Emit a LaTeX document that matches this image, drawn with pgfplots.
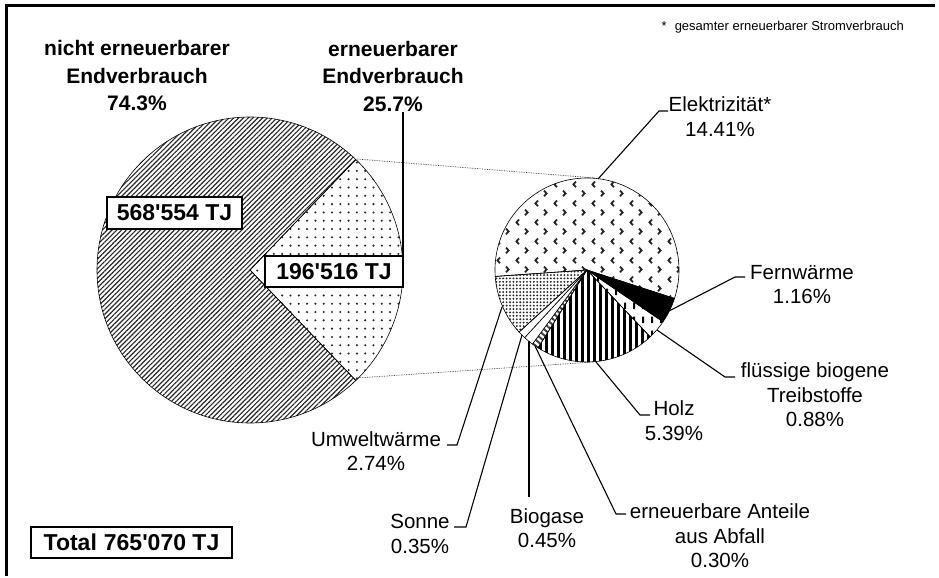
\documentclass[border=0pt]{standalone}
\usepackage{pgfplots}
\pgfplotsset{compat=1.18}
\usepackage{fontspec}
\setmainfont{Liberation Sans}
\usetikzlibrary{patterns.meta}

\tikzdeclarepattern{
  name=chev, type=uncolored,
  bounding box={(0,0) and (19bp,19bp)},
  tile size={(19bp,19bp)},
  code={
    \draw[line width=1.9bp] (6.3bp,17.2bp) -- (3.6bp,14.25bp) -- (6.3bp,11.3bp);
    \draw[line width=1.9bp] (12.6bp,7.7bp) -- (15.3bp,4.75bp) -- (12.6bp,1.8bp);
  }
}
\tikzdeclarepattern{
  name=vdash, type=uncolored,
  bounding box={(0,0) and (9bp,14bp)},
  tile size={(9bp,14bp)},
  code={\fill (3.5bp,3bp) rectangle (5.5bp,10bp);}
}
\tikzdeclarepattern{
  name=vstripe, type=uncolored,
  bounding box={(0,0) and (6.2bp,20bp)},
  tile size={(6.2bp,20bp)},
  code={\fill (0bp,-1bp) rectangle (3.1bp,21bp);}
}

\tikzset{
  sElek/.style={pattern=chev, pattern color=black!85},
  sFern/.style={fill=black},
  sFl/.style={pattern=vdash, pattern color=black},
  sHolz/.style={pattern=vstripe, pattern color=black},
  sAbf/.style={pattern={Lines[angle=-40,distance=4.5bp,line width=2bp]}, pattern color=black!75},
  sBio/.style={fill=white},
  sSon/.style={fill=white},
  sUmw/.style={pattern={Dots[distance=3.4bp,radius=1.05bp]}, pattern color=black!85},
  lab/.style={font=\fontsize{20.5bp}{24.5bp}\selectfont, align=center, inner sep=0pt},
  tit/.style={font=\fontsize{21bp}{27.5bp}\selectfont\bfseries, align=center, inner sep=0pt},
  boxl/.style={font=\fontsize{23bp}{26bp}\selectfont\bfseries, draw=black, line width=1.2bp, fill=white, inner sep=0pt, align=center},
  ldr/.style={line width=1.1bp, black},
}

\begin{document}
\begin{tikzpicture}
\begin{axis}[x=1bp, y=1bp, xmin=0, xmax=939, ymin=0, ymax=576, y dir=reverse,
  hide axis, clip=false]
\addplot[draw=none, forget plot] coordinates {(0,0) (939,576)};
\pgfplotsextra{
  % frame (top and left edges)
  \draw[line width=3bp] (axis cs:5,5.3) -- (axis cs:935,5.3);
  \draw[line width=3.3bp] (axis cs:6.7,3.8) -- (axis cs:6.7,576);

  % big pie: non renewable 568554 TJ, renewable 196516 TJ (in 1000 TJ)
  \pgfmathsetmacro{\hs}{196.516/765.070*180}
  \pgfmathsetmacro{\he}{360-\hs}
  \filldraw[pattern={Lines[angle=45,distance=3.4bp,line width=1.15bp]}, pattern color=black!85, draw=black, line width=0.6bp]
     (axis cs:250,270) -- ++(\hs:153bp) arc[start angle=\hs, end angle=\he, radius=153bp] -- cycle;
  \filldraw[pattern={Dots[distance=8.3bp,radius=1.15bp]}, pattern color=black!85, draw=black, line width=0.6bp]
     (axis cs:250,270) -- ++(-\hs:153bp) arc[start angle=-\hs, end angle=\hs, radius=153bp] -- cycle;

  % connector lines
  \draw[densely dotted, line width=0.7bp, black!80] (axis cs:357,159) -- (axis cs:595,178);
  \draw[densely dotted, line width=0.7bp, black!80] (axis cs:357,378) -- (axis cs:593,362);

  % small pie (shares of total, %)
  \foreach \v/\s [remember=\aE as \aS (initially 184)] in
     {14.41/sElek, 1.16/sFern, 0.88/sFl, 5.39/sHolz, 0.30/sAbf, 0.45/sBio, 0.35/sSon, 2.74/sUmw}{
    \pgfmathsetmacro{\aE}{\aS-\v/25.68*360}
    \filldraw[\s, draw=black, line width=0.6bp]
      (axis cs:587,270) -- ++(\aS:92bp) arc[start angle=\aS, end angle=\aE, radius=92bp] -- cycle;
  }

  % leader lines
  \draw[ldr] (axis cs:598,179) -- (axis cs:659,111) -- (axis cs:668,111);
  \draw[ldr] (axis cs:669,311) -- (axis cs:735,277) -- (axis cs:745,277);
  \draw[ldr] (axis cs:657,330) -- (axis cs:725,377) -- (axis cs:735,377);
  \draw[ldr] (axis cs:596,362) -- (axis cs:640,415) -- (axis cs:650,415);
  \draw[ldr] (axis cs:535,346) -- (axis cs:616,514) -- (axis cs:626,514);
  \draw[ldr] (axis cs:529,341) -- (axis cs:529,497);
  \draw[ldr] (axis cs:522,335) -- (axis cs:466,527) -- (axis cs:454,527);
  \draw[ldr] (axis cs:502,307) -- (axis cs:457,445) -- (axis cs:447,445);
  \draw[ldr] (axis cs:403,112) -- (axis cs:403,256);

  % labels
  \node[lab] at (axis cs:720,116.5) {Elektrizität*\\14.41\%};
  \node[lab] at (axis cs:802,284.5) {Fernwärme\\1.16\%};
  \node[lab] at (axis cs:815,395) {flüssige biogene\\Treibstoffe\\0.88\%};
  \node[lab] at (axis cs:674,420.5) {Holz\\5.39\%};
  \node[lab] at (axis cs:720,536) {erneuerbare Anteile\\aus Abfall\\0.30\%};
  \node[lab] at (axis cs:547,528) {Biogase\\0.45\%};
  \node[lab] at (axis cs:420,534) {Sonne\\0.35\%};
  \node[lab] at (axis cs:376,451) {Umweltwärme\\2.74\%};

  \node[tit] at (axis cs:137,76) {nicht erneuerbarer\\Endverbrauch\\74.3\%};
  \node[tit] at (axis cs:393,76) {erneuerbarer\\Endverbrauch\\25.7\%};

  \node[font=\fontsize{13bp}{15bp}\selectfont, anchor=east, inner sep=0pt] at (axis cs:904,27) {*\hspace{8bp}gesamter erneuerbarer Stromverbrauch};

  \node[boxl, minimum width=135bp, minimum height=32bp] at (axis cs:174.5,213) {568\textquotesingle 554 TJ};
  \node[boxl, minimum width=138bp, minimum height=31bp] at (axis cs:334,271.5) {196\textquotesingle 516 TJ};
  \node[boxl, minimum width=201bp, minimum height=31bp] at (axis cs:131.5,542.5) {Total\hspace{7bp}765\textquotesingle 070 TJ};
}
\end{axis}
\end{tikzpicture}
\end{document}
